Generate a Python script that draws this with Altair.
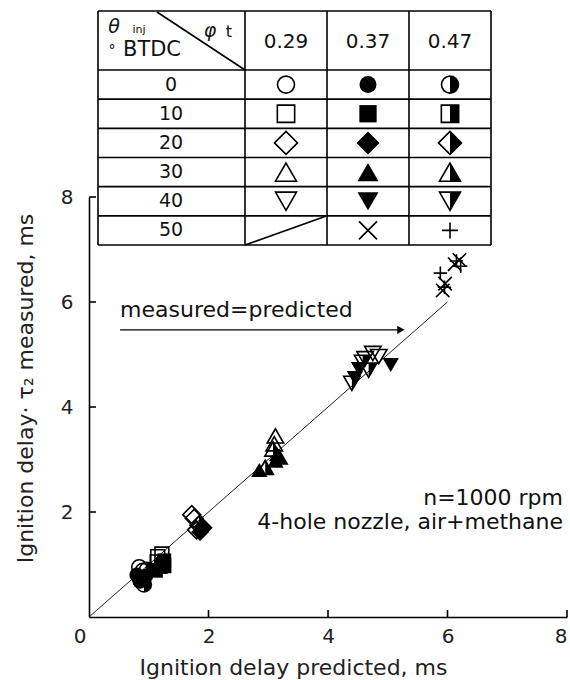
import altair as alt
import pandas as pd

# ---------------- data ----------------
theta_inj = [0, 10, 20, 30, 40, 50]
phi_t = ["0.29", "0.37", "0.47"]

pt_theta = [0, 0, 0, 0, 0, 0, 0,
            10, 10, 10, 10, 10, 10, 10,
            20, 20, 20, 20, 20, 20,
            30, 30, 30, 30, 30, 30, 30, 30,
            40, 40, 40, 40, 40, 40, 40, 40, 40,
            50, 50, 50, 50, 50, 50, 50, 50]
pt_phi = ["0.29", "0.29", "0.37", "0.37", "0.37", "0.47", "0.47",
          "0.29", "0.29", "0.37", "0.37", "0.37", "0.47", "0.47",
          "0.29", "0.29", "0.37", "0.37", "0.47", "0.47",
          "0.29", "0.29", "0.37", "0.37", "0.37", "0.47", "0.47", "0.47",
          "0.29", "0.29", "0.29", "0.37", "0.37", "0.37", "0.47", "0.47", "0.47",
          "0.37", "0.37", "0.37", "0.37", "0.47", "0.47", "0.47", "0.47"]
pred = [0.84, 0.90, 0.85, 0.95, 0.80, 0.92, 0.97,
        1.15, 1.22, 1.20, 1.26, 1.12, 1.14, 1.25,
        1.72, 1.76, 1.86, 1.92, 1.80, 1.84,
        3.12, 3.10, 3.15, 3.12, 2.85, 3.18, 2.95, 3.08,
        4.75, 4.85, 4.62, 4.45, 4.52, 5.05, 4.40, 4.58, 4.68,
        5.92, 5.96, 6.12, 6.20, 5.88, 5.95, 6.15, 6.22]
meas = [0.95, 0.88, 0.68, 0.78, 0.80, 0.62, 0.90,
        1.15, 1.20, 0.95, 1.08, 0.88, 1.05, 0.98,
        1.95, 1.88, 1.62, 1.70, 1.66, 1.75,
        3.45, 3.30, 3.10, 2.98, 2.80, 3.05, 2.85, 3.20,
        5.02, 4.96, 4.92, 4.55, 4.72, 4.80, 4.45, 4.85, 4.70,
        6.22, 6.35, 6.72, 6.80, 6.55, 6.28, 6.78, 6.68]

ref_x = [0, 6]
ref_y = [0, 6]
xticks = [2, 4, 6, 8]
yticks = [2, 4, 6, 8]
arrow_x = [0.52, 5.22]
arrow_y = [5.47, 5.47]

# ---------------- layout helpers ----------------
W, H = 478, 420
XMAX, YMAX = 8.0, 8.0
FONT = "DejaVu Sans"


def dx(px):
    return px / W * XMAX


def dy(py):
    return YMAX - py / H * YMAX


SHAPE_OF = {0: "circle", 10: "square", 20: "diamond", 30: "triangle-up", 40: "triangle-down"}
OUTLINE = {
    "circle": "circle", "square": "square", "diamond": "diamond",
    "triangle-up": "triangle-up", "triangle-down": "triangle-down",
    "x": "M-1,-1L1,1M-1,1L1,-1", "plus": "M-1,0L1,0M0,-1L0,1",
}
HALF = {
    "circle": "M0,-1A1,1,0,0,1,0,1Z",
    "square": "M0,-1L1,-1L1,1L0,1Z",
    "diamond": "M0,-1L1,0L0,1Z",
    "triangle-up": "M0,-0.866L1,0.866L0,0.866Z",
    "triangle-down": "M0,0.866L1,-0.866L0,-0.866Z",
}
SIZE_DATA = {"circle": 220, "square": 190, "diamond": 320, "triangle-up": 270,
             "triangle-down": 270, "x": 180, "plus": 180}
SIZE_LEG = {"circle": 289, "square": 300, "diamond": 529, "triangle-up": 441,
            "triangle-down": 441, "x": 324, "plus": 256}


def key_of(th, ph):
    if th == 50:
        return "x" if ph == "0.37" else "plus"
    return SHAPE_OF[th]


def style_of(th, ph):
    if th == 50 or ph == "0.29":
        return "open"
    return "filled" if ph == "0.37" else "half"


def build(rows, sizes):
    df = pd.DataFrame(rows, columns=["x", "y", "th", "ph"])
    df["key"] = [key_of(t, p) for t, p in zip(df.th, df.ph)]
    df["style"] = [style_of(t, p) for t, p in zip(df.th, df.ph)]
    df["outline"] = df.key.map(OUTLINE)
    df["half"] = df.key.map(lambda k: HALF.get(k, ""))
    df["sz"] = df.key.map(sizes)
    return df


pts = build(list(zip(pred, meas, pt_theta, pt_phi)), SIZE_DATA)

# legend table geometry (pixels relative to plot origin)
col_edges = [9, 156, 238, 320, 402]
row_top, head_bot, row_bot = -186, -127, 48
row_h = (row_bot - head_bot) / 6
row_edges = [head_bot + row_h * i for i in range(7)]
col_ctr = [(col_edges[j + 1] + col_edges[j + 2]) / 2 for j in range(3)]
row_ctr = [head_bot + row_h * (i + 0.5) for i in range(6)]

leg_rows = []
for i, th in enumerate(theta_inj):
    for j, ph in enumerate(phi_t):
        if th == 50 and ph == "0.29":
            continue
        leg_rows.append((dx(col_ctr[j]), dy(row_ctr[i]), th, ph))
leg = build(leg_rows, SIZE_LEG)

allpts = pd.concat([pts, leg], ignore_index=True)

# table lines
segs = []
for yy in [row_top] + row_edges:
    segs.append((col_edges[0], yy, col_edges[-1], yy))
for xx in col_edges:
    segs.append((xx, row_top, xx, row_bot))
segs.append((68, row_top + 1, col_edges[1], head_bot))            # header diagonal
segs.append((col_edges[1], row_bot, col_edges[2], row_edges[5]))  # empty cell diagonal
lines = pd.DataFrame([(dx(a), dy(b), dx(c), dy(d)) for a, b, c, d in segs],
                     columns=["x", "y", "x2", "y2"])

# table texts
tx = []
for j, ph in enumerate(phi_t):
    tx.append((dx(col_ctr[j]), dy(-155), ph, 20))
for i, th in enumerate(theta_inj):
    tx.append((dx(82), dy(row_ctr[i]), str(th), 19))
tx.append((dx(63), dy(-147), "BTDC", 21))
tx.append((dx(50), dy(-167), "inj", 11))
tx.append((dx(140), dy(-165), "t", 16))
tx.append((dx(23), dy(-146), "°", 14))
ttext = pd.DataFrame(tx, columns=["x", "y", "t", "fs"])

gtext = pd.DataFrame([(dx(25), dy(-170), "θ"), (dx(121), dy(-166), "φ")],
                     columns=["x", "y", "t"])

# ---------------- chart ----------------
xs = alt.Scale(domain=[0, 8], nice=False, zero=False)
ys = alt.Scale(domain=[0, 8], nice=False, zero=False)

base_axes = alt.Chart(pd.DataFrame({"x": ref_x, "y": ref_y})).mark_line(
    color="#222", strokeWidth=1
).encode(
    x=alt.X("x:Q", scale=xs, axis=alt.Axis(
        values=xticks, format="d", ticks=False, grid=False, domainColor="black", domainWidth=1.6,
        labelFont=FONT, labelFontSize=20, labelColor="#222", labelPadding=9,
        title="Ignition delay predicted, ms", titleFont=FONT, titleFontSize=22,
        titleFontWeight="normal", titleColor="#222", titleX=204, titleY=50,
        titleBaseline="middle")),
    y=alt.Y("y:Q", scale=ys, axis=alt.Axis(
        values=yticks, format="d", ticks=False, grid=False, domainColor="black", domainWidth=1.6,
        labelFont=FONT, labelFontSize=20, labelColor="#222", labelPadding=16,
        title="Ignition delay·  τ₂  measured, ms", titleFont=FONT, titleFontSize=22,
        titleFontWeight="normal", titleColor="#222", titleX=-64, titleY=191,
        titleBaseline="middle")),
)

xtick_layer = alt.Chart(pd.DataFrame({"v": xticks})).mark_rule(color="black", strokeWidth=1.6).encode(
    x=alt.X("v:Q", scale=xs), y=alt.value(H), y2=alt.value(H - 7))
ytick_layer = alt.Chart(pd.DataFrame({"v": yticks})).mark_rule(color="black", strokeWidth=1.6).encode(
    y=alt.Y("v:Q", scale=ys), x=alt.value(0), x2=alt.value(7))

zero_lbl = alt.Chart(pd.DataFrame({"x": [0], "y": [0], "t": ["0"]})).mark_text(
    font=FONT, fontSize=20, color="#222", dx=-9, dy=20
).encode(x=alt.X("x:Q", scale=xs), y=alt.Y("y:Q", scale=ys), text="t:N")

table_lines = alt.Chart(lines).mark_rule(color="black", strokeWidth=1.6).encode(
    x=alt.X("x:Q", scale=xs), y=alt.Y("y:Q", scale=ys), x2="x2:Q", y2="y2:Q")

table_text = alt.Chart(ttext).mark_text(font=FONT, color="#111").encode(
    x=alt.X("x:Q", scale=xs), y=alt.Y("y:Q", scale=ys), text="t:N",
    size=alt.Size("fs:Q", scale=None))

greek = alt.Chart(gtext).mark_text(font=FONT, fontSize=19, fontStyle="italic", color="#111").encode(
    x=alt.X("x:Q", scale=xs), y=alt.Y("y:Q", scale=ys), text="t:N")

enc = dict(x=alt.X("x:Q", scale=xs), y=alt.Y("y:Q", scale=ys),
           size=alt.Size("sz:Q", scale=None))

outline_l = alt.Chart(allpts[allpts["style"] != "filled"]).mark_point(
    filled=False, color="black", strokeWidth=1.6, opacity=1
).encode(shape=alt.Shape("outline:N", scale=None), **enc)

filled_l = alt.Chart(allpts[allpts["style"] == "filled"]).mark_point(
    filled=True, color="black", opacity=1
).encode(shape=alt.Shape("outline:N", scale=None), **enc)

half_l = alt.Chart(allpts[allpts["style"] == "half"]).mark_point(
    filled=True, color="black", opacity=1, strokeWidth=0
).encode(shape=alt.Shape("half:N", scale=None), **enc)

arrow_df = pd.DataFrame({"x": [arrow_x[0]], "y": [arrow_y[0]], "x2": [arrow_x[1]]})
arrow_line = alt.Chart(arrow_df).mark_rule(color="black", strokeWidth=1.3).encode(
    x=alt.X("x:Q", scale=xs), y=alt.Y("y:Q", scale=ys), x2="x2:Q")
arrow_head = alt.Chart(pd.DataFrame({"x": [arrow_x[1]], "y": [arrow_y[1]]})).mark_point(
    shape="triangle-right", filled=True, color="black", size=70, opacity=1
).encode(x=alt.X("x:Q", scale=xs), y=alt.Y("y:Q", scale=ys))

notes = pd.DataFrame({
    "x": [arrow_x[0], 8.0, 8.0],
    "y": [5.85, 2.27, 1.81],
    "t": ["measured=predicted", "n=1000 rpm", "4-hole nozzle, air+methane"],
    "a": ["left", "right", "right"],
})
note_l = alt.Chart(notes[notes.a == "left"]).mark_text(
    font=FONT, fontSize=22, color="#111", align="left"
).encode(x=alt.X("x:Q", scale=xs), y=alt.Y("y:Q", scale=ys), text="t:N")
note_r = alt.Chart(notes[notes.a == "right"]).mark_text(
    font=FONT, fontSize=22, color="#111", align="right", dx=-4
).encode(x=alt.X("x:Q", scale=xs), y=alt.Y("y:Q", scale=ys), text="t:N")

chart = alt.layer(
    base_axes, xtick_layer, ytick_layer, zero_lbl,
    table_lines, table_text, greek,
    outline_l, filled_l, half_l,
    arrow_line, arrow_head, note_l, note_r,
).properties(
    width=W, height=H,
    autosize=alt.AutoSizeParams(type="none"),
    padding={"left": 89, "top": 197, "right": 3, "bottom": 63},
).configure(background="white").configure_view(stroke=None, strokeWidth=0)

chart.save("out.html", embed_options={"renderer": "svg", "actions": False})
